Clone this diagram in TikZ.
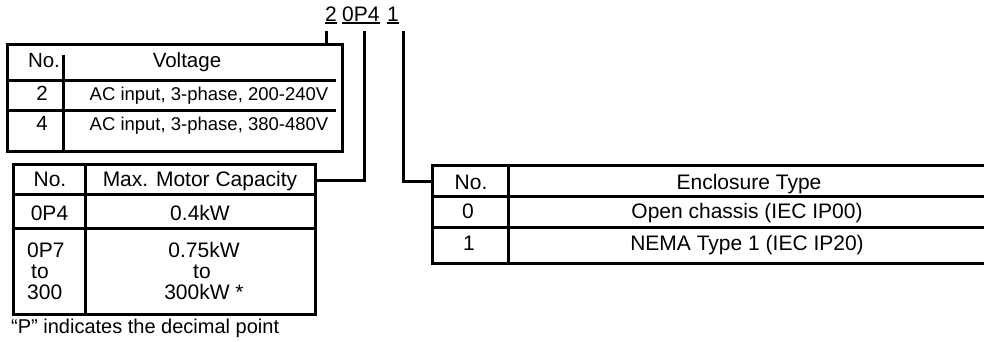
\documentclass[tikz,border=0pt]{standalone}
\usepackage{fontspec}
\setmainfont{Liberation Sans}
\begin{document}
\begin{tikzpicture}[x=1pt,y=-1pt,
  frame/.style={draw, line width=3pt, rectangle, inner sep=0pt},
  rule/.style={line width=3pt},
  conn/.style={line width=3pt},
  ul/.style={line width=1.5pt},
  txt/.style={inner sep=0pt, anchor=base, font=\fontsize{20.5}{24}\selectfont},
  big/.style={inner sep=0pt, anchor=base, font=\fontsize{21}{24}\selectfont},
  small/.style={inner sep=0pt, anchor=base, font=\fontsize{18.5}{22}\selectfont},
  code/.style={inner sep=0pt, anchor=base west, font=\fontsize{21}{24}\selectfont},
]
\useasboundingbox (0,0) rectangle (984,341);

% code digits
\node[code] (d2) at (325,21) {2};
\node[code] (d0p4) at (342,21) {0P4};
\node[code] (d1) at (387,21) {1};
\draw[ul] ([yshift=-2pt]d2.base west) -- ([yshift=-2pt]d2.base east);
\draw[ul] ([yshift=-2pt]d0p4.base west) -- ([yshift=-2pt]d0p4.base east);
\draw[ul] ([yshift=-2pt]d1.base west) -- ([yshift=-2pt]d1.base east);

% voltage table
\node[frame, minimum width=335, minimum height=107] (vtab) at (174.5,97.5) {};
\draw[rule] (63,55) -- (63,151);
\draw[rule] (7,80) -- (336,80);
\draw[rule] (7,110) -- (336,110);
\node[txt] (vno) at (44,67) {No.};
\node[txt] (vhead) at (187,67) {Voltage};
\node[txt] (v2) at (42,100) {2};
\node[small] (v2t) at (209,100) {AC input, 3-phase, 200-240V};
\node[txt] (v4) at (42,130) {4};
\node[small] (v4t) at (209,130) {AC input, 3-phase, 380-480V};

% motor table
\node[frame, minimum width=302, minimum height=150] (mtab) at (164,239) {};
\draw[rule] (85,164) -- (85,314);
\draw[rule] (13,194) -- (315,194);
\draw[rule] (13,228) -- (315,228);
\node[big] (mno) at (50,186) {No.};
\node[big] (mhead) at (200,186) {Max. Motor Capacity};
\node[big] (m1) at (49.5,220) {0P4};
\node[big] (m1t) at (200,220) {0.4kW};
\node[big, anchor=base west] (m2a) at (27,257) {0P7};
\node[big, anchor=base west] (m2b) at (31,278) {to};
\node[big, anchor=base west] (m2c) at (27,299) {300};
\node[big] (m2ta) at (204,257) {0.75kW};
\node[big] (m2tb) at (202,278) {to};
\node[big] (m2tc) at (204,299) {300kW *};

% enclosure table
\node[frame, minimum width=558, minimum height=98] (etab) at (711,214) {};
\draw[rule] (508,165) -- (508,263);
\draw[rule] (432,196) -- (990,196);
\draw[rule] (432,227) -- (990,227);
\node[big] (eno) at (471,189) {No.};
\node[big] (ehead) at (749,189) {Enclosure Type};
\node[big] (e0) at (468,218) {0};
\node[big] (e0t) at (747,218) {Open chassis (IEC IP00)};
\node[big] (e1) at (469,250) {1};
\node[big] (e1t) at (747,250) {NEMA Type 1 (IEC IP20)};

% connectors
\draw[conn] ([xshift=1pt,yshift=-10pt]d2.base west) -- ([xshift=1pt]d2.base west |- vtab.north);
\draw[conn] ([xshift=22pt,yshift=-10pt]d0p4.base west) |- (mtab.east |- 0,180);
\draw[conn] ([xshift=16pt,yshift=-10pt]d1.base west) |- (etab.west |- 0,181);

% footnote
\node[txt, anchor=base west, font=\fontsize{20}{24}\selectfont] (note) at (11,333) {“P” indicates the decimal point};
\end{tikzpicture}
\end{document}
